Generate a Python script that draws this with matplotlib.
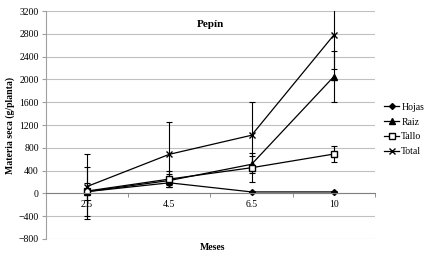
import numpy as np
import matplotlib.pyplot as plt
from matplotlib.lines import Line2D

meses = ['2.5', '4.5', '6.5', '10']
hojas = [30, 185, 25, 25]
hojas_err = [20, 30, 15, 10]
raiz = [30, 225, 510, 2050]
raiz_err = [150, 120, 150, 450]
tallo = [40, 250, 450, 690]
tallo_err = [430, 140, 250, 140]
total = [120, 685, 1020, 2780]
total_err = [570, 570, 580, 600]

plt.rcParams['font.family'] = ['Liberation Serif', 'DejaVu Serif']

fig = plt.figure(figsize=(4.33, 2.58), dpi=100)
ax = fig.add_axes([0.106, 0.074, 0.76, 0.883])
x = np.arange(len(meses))

series = [
    ('Hojas', hojas, hojas_err, dict(marker='D', markersize=3, mfc='black')),
    ('Raiz', raiz, raiz_err, dict(marker='^', markersize=5, mfc='black')),
    ('Tallo', tallo, tallo_err, dict(marker='s', markersize=5, mfc='white')),
    ('Total', total, total_err, dict(marker='x', markersize=5, mfc='black')),
]
handles = []
for name, vals, err, st in series:
    ax.errorbar(x, vals, yerr=err, color='black', lw=0.9, elinewidth=0.8,
                capsize=2, capthick=0.8, mec='black', **st)
    handles.append(Line2D([], [], color='black', lw=0.9, mec='black', label=name, **st))

ax.set_xlim(-0.5, 3.5)
ax.set_ylim(-800, 3200)
ax.set_yticks(np.arange(-800, 3201, 400))
ax.yaxis.grid(True, color='#c0c0c0', lw=0.8)
ax.set_axisbelow(True)

ax.spines['bottom'].set_position(('data', 0))
ax.spines['bottom'].set_color('#808080')
ax.spines['left'].set_color('#a0a0a0')
ax.spines['top'].set_visible(False)
ax.spines['right'].set_visible(False)

ax.set_xticks(x)
ax.set_xticklabels(meses)
ax.set_xticks(np.arange(-0.5, 3.6, 1), minor=True)
ax.tick_params(axis='x', which='major', length=0, labelsize=7, pad=5)
ax.tick_params(axis='x', which='minor', length=3, color='#808080', direction='out')
ax.tick_params(axis='y', length=3, color='#a0a0a0', labelsize=7, pad=2)

ax.set_title('Pepín', fontsize=8, fontweight='bold', y=0.895)
ax.set_ylabel('Materia seca (g/planta)', fontsize=7, fontweight='bold', labelpad=3)
fig.text(0.49, 0.03, 'Meses', fontsize=7, fontweight='bold', ha='center')

ax.legend(handles=handles, loc='upper left', bbox_to_anchor=(1.015, 0.615), frameon=False,
          fontsize=7, handlelength=1.6, handletextpad=0.2, labelspacing=0.6,
          borderaxespad=0)

fig.savefig('out.png', dpi=100)
